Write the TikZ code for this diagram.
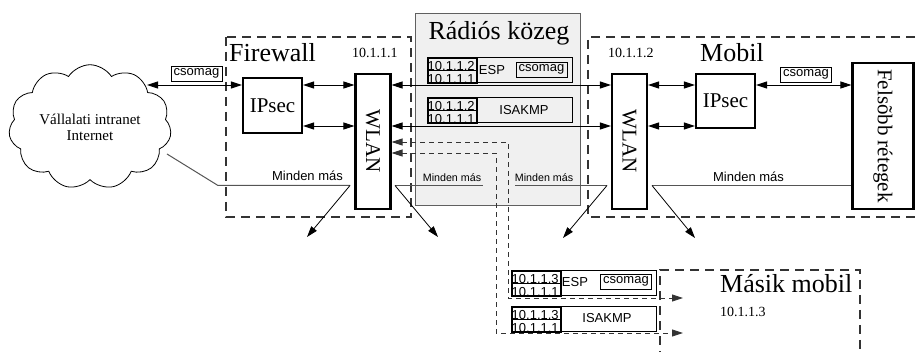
\documentclass[tikz,border=0pt]{standalone}
\usepackage{fontspec}
\setmainfont{Liberation Serif}
\setsansfont{Liberation Sans}
\usetikzlibrary{arrows.meta,shapes.symbols}
\definecolor{dgray}{HTML}{333333}
\definecolor{rfill}{HTML}{F0F0F0}
\definecolor{rline}{HTML}{606060}
\definecolor{mgray}{HTML}{555555}
\newcommand\myfs[1]{\fontsize{#1}{#1}\selectfont}
\newcommand\mypkt[5]{%
  \node[pktbox, anchor=north west] (#1) at (#2,#3) {};
  \node[addrbox, anchor=north west] (#1a) at (#2,#3) {};
  \draw[line width=1.2pt] (#1a.west) -- (#1a.east);
  \node[addrtxt, anchor=base west] (#1t) at (#1a.west) {#4};
  \node[addrtxt, anchor=base west] (#1b) at (#1a.south west) {#5};
}
\begin{document}
\begin{tikzpicture}[x=1pt,y=-1pt,
  thickbox/.style={draw, line width=2.2pt, inner sep=0pt, font=\myfs{21}},
  groupbox/.style={draw=dgray, line width=1.3pt, dash pattern=on 9pt off 6pt},
  flow/.style={line width=0.9pt, {Triangle[length=11pt,width=7pt]}-{Triangle[length=11pt,width=7pt]}},
  dflow/.style={draw=dgray, line width=0.9pt, dash pattern=on 5pt off 4pt, {Triangle[length=11pt,width=7pt]}-{Triangle[length=11pt,width=7pt]}},
  darr/.style={line width=0.8pt, -{Triangle[length=11pt,width=7pt]}},
  mline/.style={draw=mgray, line width=1pt},
  pktbox/.style={draw, line width=0.8pt, minimum width=145pt, minimum height=25pt, inner sep=0pt},
  addrbox/.style={draw, line width=1.6pt, minimum width=49pt, minimum height=25pt, inner sep=0pt},
  addrtxt/.style={font=\sffamily\myfs{13}, inner sep=0pt, xshift=0.5pt},
  csbox/.style={draw, line width=0.8pt, minimum width=51pt, minimum height=15pt, inner sep=0pt, font=\sffamily\myfs{13}},
  sans/.style={font=\sffamily\myfs{13}, inner sep=0pt},
  small/.style={font=\sffamily\myfs{10.7}, inner sep=0pt},
  big/.style={font=\myfs{26}, inner sep=0pt},
  ip/.style={font=\myfs{14}, inner sep=0pt}
]
\useasboundingbox (0,0) rectangle (916,352);
\begin{scope}
\clip (0,0) rectangle (916,352);
% radio medium
\node[draw=rline, fill=rfill, line width=1pt, minimum width=165pt, minimum height=192pt, anchor=north west, inner sep=0pt] (radio) at (415,13) {};
\node[big, anchor=base] (radiot) at (499,40) {Rádiós közeg};
% groups
\draw[groupbox] (226,37) rectangle (411,217);
\draw[groupbox] (930,37) -- (588,37) -- (588,217) -- (930,217);
\draw[groupbox] (660,360) -- (660,270) -- (860,270) -- (860,360);
\node[big, anchor=base west] (fwt) at (229,62) {Firewall};
\node[ip, anchor=base west] (fwip) at (352,58) {10.1.1.1};
\node[big, anchor=base west] (mobt) at (700,62) {Mobil};
\node[ip, anchor=base west] (mobip) at (608,58) {10.1.1.2};
\node[big, anchor=base west] (mast) at (720,293) {Másik mobil};
\node[ip, anchor=base west] (masip) at (720,317) {10.1.1.3};
% cloud
\node[cloud, draw, cloud puffs=11, cloud puff arc=115, aspect=1.45, minimum width=158pt, minimum height=108pt, line width=0.8pt, align=center, font=\fontsize{15}{16}\selectfont] (cloud) at (90,127) {Vállalati intranet\\Internet};
% boxes
\node[thickbox, minimum width=59pt, minimum height=55pt] (ipsecA) at (272.5,105.5) {IPsec};
\node[thickbox, minimum width=35pt, minimum height=135pt] (wlanA) at (373,141.5) {};
\node[font=\myfs{21}, rotate=-90] (wlanAt) at (373,141) {WLAN};
\node[thickbox, minimum width=35pt, minimum height=135pt] (wlanB) at (629.5,141.5) {};
\node[font=\myfs{21}, rotate=-90] (wlanBt) at (629.5,141) {WLAN};
\node[thickbox, minimum width=59pt, minimum height=54pt] (ipsecB) at (725.5,101) {IPsec};
\node[thickbox, minimum width=61pt, minimum height=146pt] (upper) at (883,136) {};
\node[font=\myfs{21}, rotate=-90] (uppert) at (883,136) {Felsõbb rétegek};
% packets
\mypkt{pA}{427}{57}{10.1.1.2}{10.1.1.1}
\node[sans] (pAe) at (492,70) {ESP};
\node[csbox] (pAc) at (541.5,69.5) {csomag};
\mypkt{pB}{427}{97}{10.1.1.2}{10.1.1.1}
\node[sans] (pBe) at (524,110) {ISAKMP};
\mypkt{pC}{511}{270}{10.1.1.3}{10.1.1.1}
\node[sans] (pCe) at (575,282) {ESP};
\node[csbox] (pCc) at (626,281.5) {csomag};
\mypkt{pD}{511}{306}{10.1.1.3}{10.1.1.1}
\node[sans] (pDe) at (607,318) {ISAKMP};
% csomag labels
\node[csbox] (csA) at (196.5,73.5) {csomag};
\node[csbox] (csB) at (806,74.5) {csomag};
% coordinates
\coordinate (y85) at (0,85);
\coordinate (y126) at (0,126);
\coordinate (y142) at (0,142);
\coordinate (y153) at (0,153);
\coordinate (ym) at (0,185.5);
\coordinate (cloudp) at (147,85);
\coordinate (cl1) at (167,154);
\coordinate (clk) at (218,185.5);
\coordinate (mA1) at (350,185.5);
\coordinate (mA2) at (395,185.5);
\coordinate (mA3) at (483,185.5);
\coordinate (mB0) at (515,185.5);
\coordinate (mB1) at (607,185.5);
\coordinate (mB2) at (652,185.5);
\coordinate (dA) at (683,298);
\coordinate (dB) at (683,333);
% flows
\draw[flow] (cloudp) -- (ipsecA.west |- y85);
\draw[flow] (ipsecA.east |- y85) -- (wlanA.west |- y85);
\draw[flow] (ipsecA.east |- y126) -- (wlanA.west |- y126);
\draw[flow] (wlanA.east |- y85) -- (wlanB.west |- y85);
\draw[flow] (wlanA.east |- y126) -- (wlanB.west |- y126);
\draw[flow] (wlanB.east |- y85) -- (ipsecB.west |- y85);
\draw[flow] (wlanB.east |- y126) -- (ipsecB.west |- y126);
\draw[flow] (ipsecB.east |- y85) -- (upper.west |- y85);
% dashed flows to other mobile
\draw[dflow] (wlanA.east |- y142) -- (508,142) -- (508,298) -- (dA);
\draw[dflow] (wlanA.east |- y153) -- (496,153) -- (496,333) -- (dB);
% everything else
\draw[mline] (cl1) -- (clk) -- (mA1);
\draw[mline] (mA2) -- (mA3);
\draw[mline] (mB0) -- (mB1);
\draw[mline] (mB2) -- (upper.west |- ym);
\draw[darr] (mA1) -- (307,237);
\draw[darr] (mA2) -- (438,237);
\draw[darr] (mB1) -- (563,238);
\draw[darr] (mB2) -- (695,238);
\node[sans, anchor=base] (mmA) at (307.5,181) {Minden más};
\node[small, anchor=base] (mmB) at (452,182) {Minden más};
\node[small, anchor=base] (mmC) at (544,182) {Minden más};
\node[sans, anchor=base] (mmD) at (748.5,182) {Minden más};
\end{scope}
\end{tikzpicture}
\end{document}
